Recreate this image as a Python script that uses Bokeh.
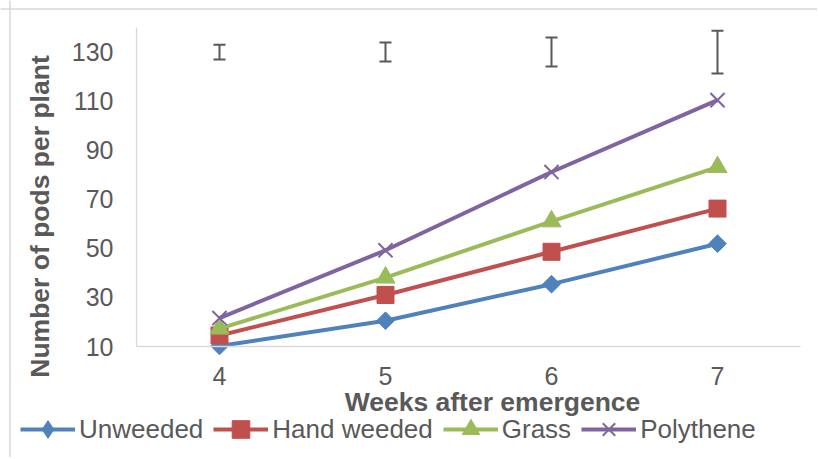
import math
from bokeh.plotting import figure
from bokeh.models import (ColumnDataSource, FixedTicker, Legend, LegendItem, Label,
                          Whisker, TeeHead, Range1d, Span)
from bokeh.embed import file_html
from bokeh.resources import INLINE

# ---- data ----
weeks = [4, 5, 6, 7]
week_labels = ["4", "5", "6", "7"]
unweeded = [10.2, 20.5, 35.4, 51.9]
hand_weeded = [14.5, 31.0, 48.6, 66.2]
grass = [17.3, 38.1, 61.0, 83.1]
polythene = [21.6, 49.2, 81.1, 110.4]
lsd_center = [130, 130, 130, 130]
lsd_half = [3.0, 3.9, 5.9, 8.7]
y_ticks = [10, 30, 50, 70, 90, 110, 130]

series_names = ["Unweeded", "Hand weeded", "Grass", "Polythene"]
colors = ["#4F81BD", "#C0504D", "#9BBB59", "#8064A2"]

FONT = "Liberation Sans"
GREY = "#595959"

# ---- layout geometry (page pixels) ----
W, H = 817, 457
X_LO, X_HI = 3.5, 7.5        # category band edges
Y_LO, Y_HI = 10, 140         # value axis extent
PX_LEFT, PX_RIGHT = 136, 800  # plot-area edges
PY_BOT, PY_TOP = 346, 27

xs = (PX_RIGHT - PX_LEFT) / (X_HI - X_LO)
ys = (PY_BOT - PY_TOP) / (Y_HI - Y_LO)


def px_to_x(px):
    return X_LO + (px - PX_LEFT) / xs


def py_to_y(py):
    return Y_LO + (PY_BOT - py) / ys


p = figure(width=W, height=H, output_backend="svg", toolbar_location=None,
           x_range=Range1d(px_to_x(0), px_to_x(W)),
           y_range=Range1d(py_to_y(H), py_to_y(0)),
           min_border=0, min_border_left=0, min_border_right=0,
           min_border_top=0, min_border_bottom=0)
p.outline_line_color = None
p.grid.visible = False

# chart-area border (left and top visible)
p.add_layout(Span(location=px_to_x(9.5), dimension="height",
                  line_color="#D9D9D9", line_width=1.5))
p.add_layout(Span(location=py_to_y(8.5), dimension="width",
                  line_color="#D9D9D9", line_width=1.5))

# axes
p.xaxis.ticker = FixedTicker(ticks=weeks)
p.xaxis.major_label_overrides = {w: s for w, s in zip(weeks, week_labels)}
p.xaxis.fixed_location = Y_LO
p.xaxis.bounds = (X_LO, X_HI)
p.yaxis.ticker = FixedTicker(ticks=y_ticks)
p.yaxis.fixed_location = X_LO
p.yaxis.bounds = (Y_LO, Y_HI)
for ax in (p.xaxis[0], p.yaxis[0]):
    ax.axis_line_color = "#D9D9D9"
    ax.axis_line_width = 1.3
    ax.major_tick_line_color = None
    ax.minor_tick_line_color = None
    ax.major_tick_out = 0
    ax.major_tick_in = 0
    ax.major_label_text_font = FONT
    ax.major_label_text_font_size = "25px"
    ax.major_label_text_color = GREY
p.xaxis.major_label_standoff = 20
p.yaxis.major_label_standoff = 23

src = ColumnDataSource(dict(x=weeks, u=unweeded, h=hand_weeded, g=grass, pl=polythene,
                            lo=[c - d for c, d in zip(lsd_center, lsd_half)],
                            hi=[c + d for c, d in zip(lsd_center, lsd_half)]))

items = []
cols = ["u", "h", "g", "pl"]
for name, col, color in zip(series_names, cols, colors):
    lr = p.line("x", col, source=src, line_color=color, line_width=4)
    if name == "Unweeded":
        # diamond used as legend key (legend keys are drawn unrotated),
        # covered on the chart by the rotated-square diamond below
        mr = p.scatter("x", col, source=src, marker="diamond", size=16,
                       fill_color=color, line_color=color)
        p.scatter("x", col, source=src, marker="square", angle=math.pi / 4,
                  size=12.5, fill_color=color, line_color=color)
    elif name == "Hand weeded":
        mr = p.scatter("x", col, source=src, marker="square", size=17,
                       fill_color=color, line_color=color)
    elif name == "Grass":
        mr = p.scatter("x", col, source=src, marker="triangle", size=19,
                       fill_color=color, line_color=color)
    else:
        mr = p.scatter("x", col, source=src, marker="x", size=20,
                       line_color=color, line_width=2)
    items.append(LegendItem(label=name, renderers=[lr, mr]))

# LSD bars
wh = Whisker(source=src, base="x", lower="lo", upper="hi", dimension="height",
             line_color=GREY, line_width=2,
             upper_head=TeeHead(size=12, line_color=GREY, line_width=2),
             lower_head=TeeHead(size=12, line_color=GREY, line_width=2))
p.add_layout(wh)

legend = Legend(items=items, orientation="horizontal", location=(20, H - 451),
                glyph_width=55, glyph_height=44, label_height=44,
                label_standoff=4, spacing=10, padding=0, margin=0,
                label_text_font=FONT, label_text_font_size="26px",
                label_text_color=GREY, border_line_alpha=0,
                background_fill_alpha=0, inactive_fill_alpha=0)
p.add_layout(legend, "center")

# axis titles
p.add_layout(Label(x=px_to_x(492), y=py_to_y(401), text="Weeks after emergence",
                   text_align="center", text_baseline="alphabetic", text_font=FONT,
                   text_font_size="26.5px", text_font_style="bold", text_color=GREY))
p.add_layout(Label(x=px_to_x(39), y=py_to_y(216), text="Number of pods per plant",
                   angle=math.pi / 2, text_align="center", text_baseline="alphabetic",
                   text_font=FONT, text_font_size="26.5px", text_font_style="bold",
                   text_color=GREY))

open("out.html", "w").write(file_html(p, INLINE))
